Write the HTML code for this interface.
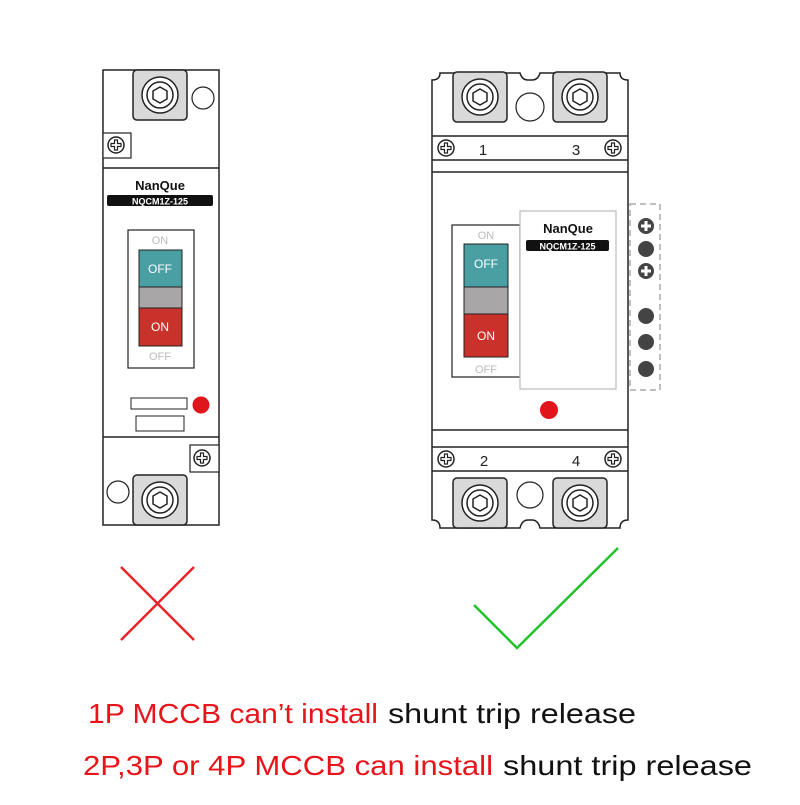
<!DOCTYPE html>
<html><head><meta charset="utf-8"><style>html,body{margin:0;padding:0;background:#fff}</style></head>
<body>
<svg width="800" height="800" viewBox="0 0 800 800" xmlns="http://www.w3.org/2000/svg" font-family="Liberation Sans, sans-serif">
<defs>
<g id="term"><rect x="-27" y="-25" width="54" height="50" rx="4" fill="#d9d9d9" stroke="#222" stroke-width="1.5"/><circle r="18" fill="#fff" stroke="#222" stroke-width="1.5"/><circle r="13" fill="none" stroke="#222" stroke-width="1.5"/><polygon points="0,-8 7,-4 7,4 0,8 -7,4 -7,-4" fill="none" stroke="#222" stroke-width="1.5"/></g>
<g id="scr"><circle r="8" fill="#fff" stroke="#222" stroke-width="1.5"/><path d="M-5 -1.5H-1.5V-5H1.5V-1.5H5V1.5H1.5V5H-1.5V1.5H-5Z" fill="none" stroke="#222" stroke-width="1.2"/></g>
<g id="pl"><circle r="8" fill="#444"/><path d="M-5 -1.5H-1.5V-5H1.5V-1.5H5V1.5H1.5V5H-1.5V1.5H-5Z" fill="#fff"/></g>
</defs>
<!-- left breaker -->
<rect x="103" y="70" width="116" height="455" fill="#fff" stroke="#222" stroke-width="1.5"/>
<line x1="103" y1="168" x2="219" y2="168" stroke="#222" stroke-width="1.5"/>
<line x1="103" y1="437" x2="219" y2="437" stroke="#222" stroke-width="1.5"/>
<use href="#term" x="160" y="95"/>
<circle cx="203" cy="98" r="11" fill="#fff" stroke="#222" stroke-width="1.2"/>
<rect x="103" y="133" width="28" height="25" fill="#fff" stroke="#222" stroke-width="1.2"/>
<use href="#scr" x="116" y="145"/>
<text x="160" y="190" font-size="13" font-weight="bold" text-anchor="middle" fill="#111">NanQue</text>
<rect x="107" y="195" width="106" height="11" rx="2" fill="#111"/>
<text x="160" y="204.5" font-size="9" font-weight="bold" text-anchor="middle" fill="#fff">NQCM1Z-125</text>
<rect x="128" y="230" width="66" height="138" fill="#fff" stroke="#222" stroke-width="1.2"/>
<text x="160" y="244" font-size="11" text-anchor="middle" fill="#bbb">ON</text>
<rect x="139" y="250" width="43" height="37" fill="#4a9fa3" stroke="#222"/>
<text x="160" y="273" font-size="12" text-anchor="middle" fill="#fff">OFF</text>
<rect x="139" y="287" width="43" height="21" fill="#a8a6a6" stroke="#222"/>
<rect x="139" y="308" width="43" height="38" fill="#c8322a" stroke="#222"/>
<text x="160" y="331" font-size="12" text-anchor="middle" fill="#fff">ON</text>
<text x="160" y="360" font-size="11" text-anchor="middle" fill="#bbb">OFF</text>
<rect x="131" y="398" width="56" height="11" fill="#fff" stroke="#222"/>
<rect x="136" y="416" width="48" height="15" fill="#fff" stroke="#222"/>
<circle cx="201" cy="405" r="8.5" fill="#e0141b"/>
<rect x="190" y="445" width="29" height="27" fill="#fff" stroke="#222" stroke-width="1.2"/>
<use href="#scr" x="202" y="458"/>
<circle cx="118" cy="492" r="11" fill="#fff" stroke="#222" stroke-width="1.2"/>
<use href="#term" x="160" y="500"/>
<!-- right breaker -->
<path d="M432 80 Q440 80 440 73 H520 Q522 80 528 80 H532 Q538 80 540 73 H620 Q620 80 628 80 V520 Q620 520 620 528 H540 Q538 520 532 520 H528 Q522 520 520 528 H440 Q440 520 432 520 Z" fill="#fff" stroke="#222" stroke-width="1.5"/>
<use href="#term" x="480" y="97"/>
<use href="#term" x="580" y="97"/>
<circle cx="530" cy="107" r="14" fill="#fff" stroke="#222" stroke-width="1.2"/>
<line x1="432" y1="136" x2="628" y2="136" stroke="#222" stroke-width="1.5"/>
<line x1="432" y1="160" x2="628" y2="160" stroke="#222" stroke-width="1.5"/>
<line x1="432" y1="172" x2="628" y2="172" stroke="#222" stroke-width="1.5"/>
<use href="#scr" x="446" y="148"/><use href="#scr" x="613" y="148"/>
<text x="483" y="155" font-size="15" text-anchor="middle" fill="#222">1</text>
<text x="576" y="155" font-size="15" text-anchor="middle" fill="#222">3</text>
<rect x="452" y="225" width="68" height="152" fill="#fff" stroke="#222" stroke-width="1.2"/>
<text x="486" y="239" font-size="11" text-anchor="middle" fill="#bbb">ON</text>
<rect x="464" y="244" width="44" height="43" fill="#4a9fa3" stroke="#222"/>
<text x="486" y="268" font-size="12" text-anchor="middle" fill="#fff">OFF</text>
<rect x="464" y="287" width="44" height="27" fill="#a8a6a6" stroke="#222"/>
<rect x="464" y="314" width="44" height="43" fill="#c8322a" stroke="#222"/>
<text x="486" y="340" font-size="12" text-anchor="middle" fill="#fff">ON</text>
<text x="486" y="373" font-size="11" text-anchor="middle" fill="#bbb">OFF</text>
<rect x="520" y="211" width="96" height="178" fill="#fff" stroke="#bbb" stroke-width="1.2"/>
<text x="568" y="233" font-size="13" font-weight="bold" text-anchor="middle" fill="#111">NanQue</text>
<rect x="526" y="240" width="83" height="11" rx="2" fill="#111"/>
<text x="567.5" y="249.5" font-size="9" font-weight="bold" text-anchor="middle" fill="#fff">NQCM1Z-125</text>
<circle cx="549" cy="410" r="9" fill="#e0141b"/>
<rect x="630" y="204" width="30" height="186" fill="none" stroke="#aaa" stroke-width="1.5" stroke-dasharray="6,4"/>
<use href="#pl" x="646" y="226"/><circle cx="646" cy="249" r="8" fill="#444"/><use href="#pl" x="646" y="271"/>
<circle cx="646" cy="316" r="8" fill="#444"/><circle cx="646" cy="342" r="8" fill="#444"/><circle cx="646" cy="369" r="8" fill="#444"/>
<line x1="432" y1="430" x2="628" y2="430" stroke="#222" stroke-width="1.5"/>
<line x1="432" y1="447" x2="628" y2="447" stroke="#222" stroke-width="1.5"/>
<line x1="432" y1="471" x2="628" y2="471" stroke="#222" stroke-width="1.5"/>
<use href="#scr" x="446" y="459"/><use href="#scr" x="613" y="459"/>
<text x="484" y="466" font-size="15" text-anchor="middle" fill="#222">2</text>
<text x="576" y="466" font-size="15" text-anchor="middle" fill="#222">4</text>
<use href="#term" x="480" y="503"/>
<use href="#term" x="580" y="503"/>
<circle cx="530" cy="495" r="13" fill="#fff" stroke="#222" stroke-width="1.2"/>
<!-- marks -->
<line x1="121" y1="567" x2="194" y2="640" stroke="#e8232a" stroke-width="2.5"/>
<line x1="194" y1="567" x2="121" y2="640" stroke="#e8232a" stroke-width="2.5"/>
<polyline points="474,605 517,648 618,548" fill="none" stroke="#22c32a" stroke-width="2.5"/>
<!-- text -->
<text x="88" y="723" font-size="28" fill="#e8141b" textLength="290" lengthAdjust="spacingAndGlyphs">1P MCCB can’t install</text>
<text x="388" y="723" font-size="28" fill="#111" textLength="248" lengthAdjust="spacingAndGlyphs">shunt trip release</text>
<text x="83" y="775" font-size="28" fill="#e8141b" textLength="410" lengthAdjust="spacingAndGlyphs">2P,3P or 4P MCCB can install</text>
<text x="503" y="775" font-size="28" fill="#111" textLength="249" lengthAdjust="spacingAndGlyphs">shunt trip release</text>
</svg>
</body></html>
